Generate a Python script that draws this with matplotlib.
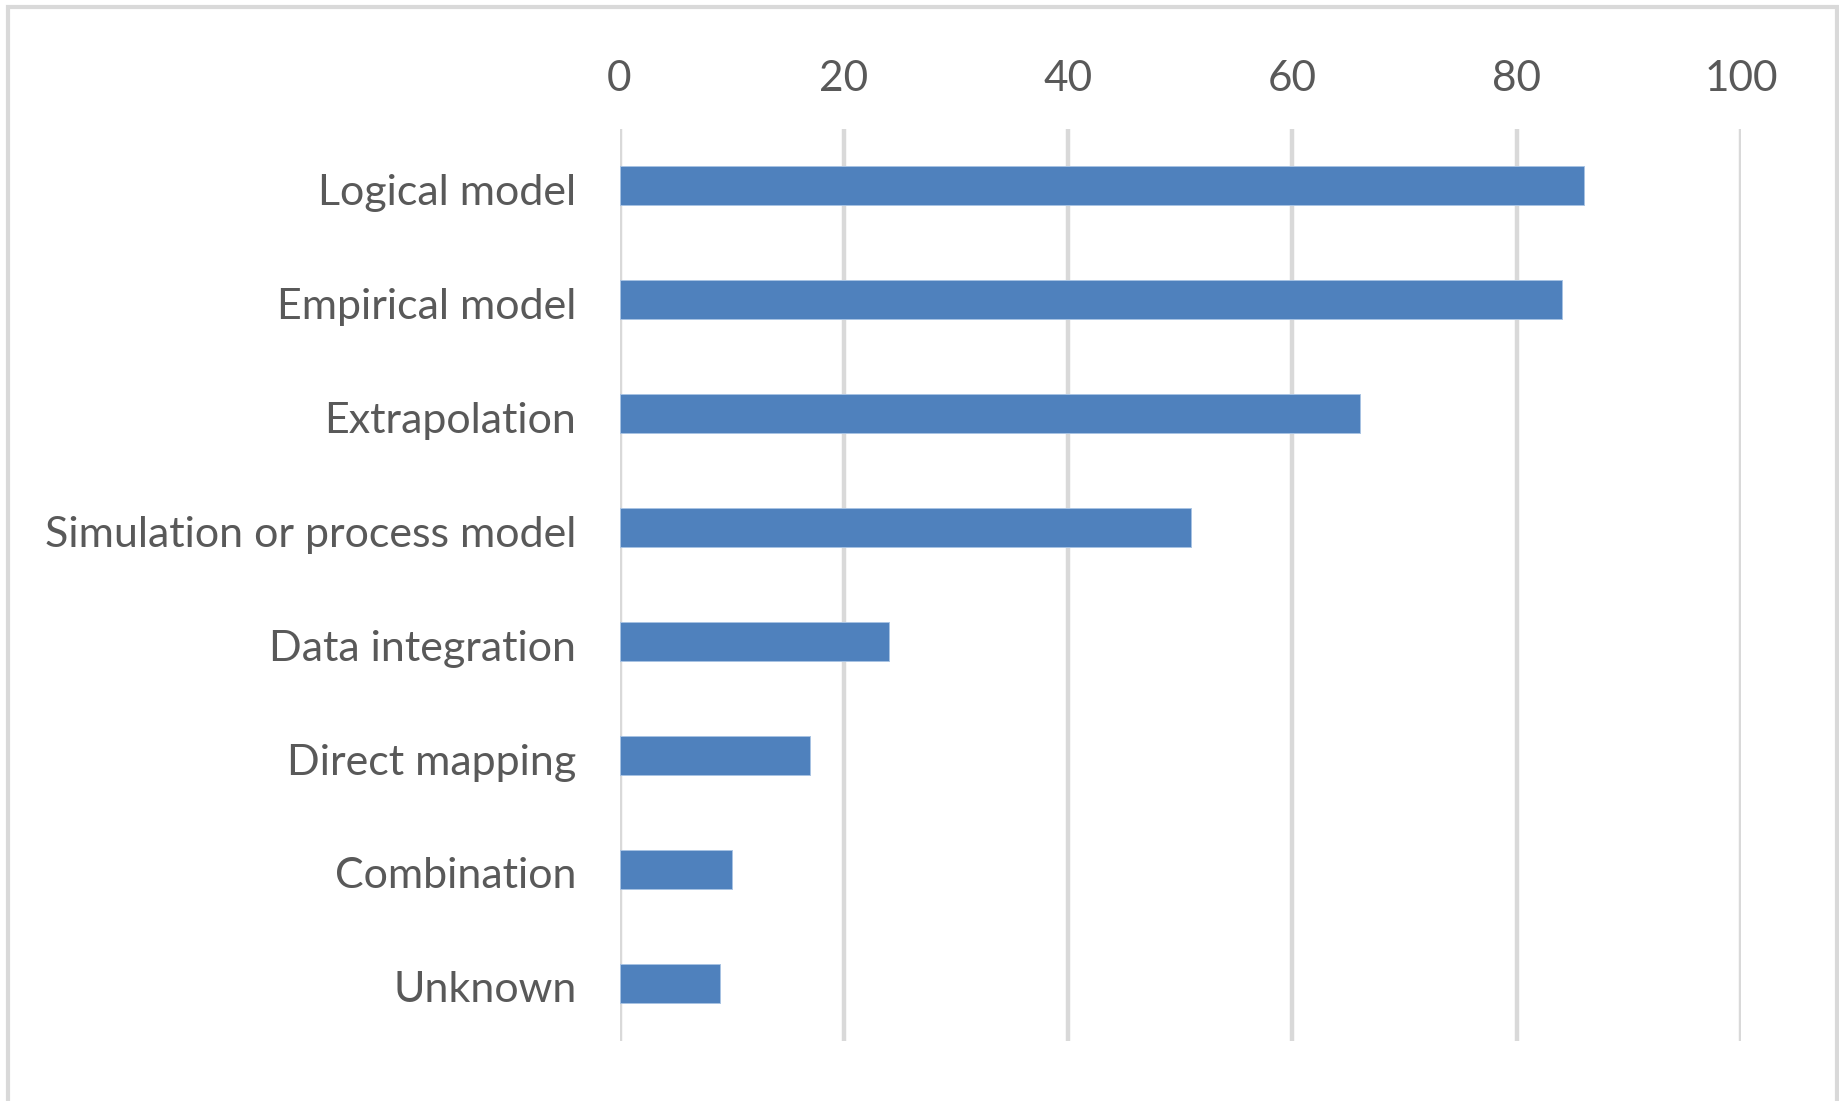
import matplotlib
matplotlib.use("Agg")
import matplotlib.pyplot as plt
import matplotlib.transforms as mtransforms
from matplotlib.patches import Rectangle

categories = ["Logical model", "Empirical model", "Extrapolation",
              "Simulation or process model", "Data integration",
              "Direct mapping", "Combination", "Unknown"]
values = [86, 84, 66, 51, 24, 17, 10, 9]
xticks = [0, 20, 40, 60, 80, 100]

W, H = 1839, 1101
fig = plt.figure(figsize=(W / 100, H / 100), dpi=100)
fig.patch.set_facecolor("white")

# outer chart border
fig.add_artist(Rectangle((8 / W, -0.05), (1837 - 8) / W, (1101 - 7) / H + 0.05,
                         transform=fig.transFigure, fill=False,
                         edgecolor="#D9D9D9", linewidth=3.0))

ax = fig.add_axes([619.5 / W, 1 - 1040.5 / H, (1741 - 619.5) / W, (1040.5 - 128.5) / H])
ypos = list(range(len(categories)))
ax.barh(ypos, values, height=0.345, color="#4F81BD", edgecolor="#A8C3E3",
        linewidth=0.7, zorder=3)
ax.set_xlim(0, 100)
ax.set_ylim(len(categories) - 0.5, -0.5)
ax.set_xticks(xticks)
ax.set_xticklabels([str(t) for t in xticks])
ax.set_yticks(ypos)
ax.set_yticklabels(categories)
ax.xaxis.tick_top()
ax.tick_params(axis="x", length=0, pad=22, labelsize=30.5, labelcolor="#595959")
ax.tick_params(axis="y", length=0, pad=31, labelsize=31, labelcolor="#595959")
for lab in ax.get_xticklabels() + ax.get_yticklabels():
    lab.set_family(["Lato", "DejaVu Sans"])
shift = mtransforms.ScaledTranslation(0, -3.5 / 100, fig.dpi_scale_trans)
for lab in ax.get_yticklabels():
    lab.set_transform(lab.get_transform() + shift)
ax.grid(axis="x", color="#D9D9D9", linewidth=3.2, zorder=0)
ax.grid(axis="y", visible=False)
for s in ax.spines.values():
    s.set_visible(False)
ax.set_axisbelow(True)

fig.savefig("out.png", dpi=100)
